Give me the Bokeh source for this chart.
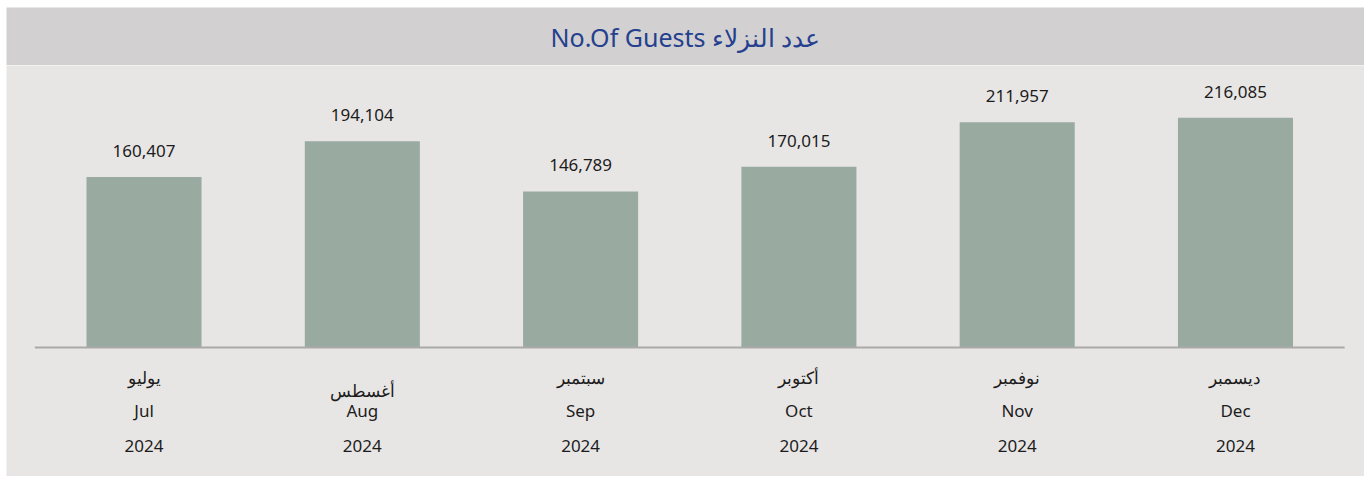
from bokeh.plotting import figure
from bokeh.models import ColumnDataSource, Range1d, Spacer
from bokeh.layouts import column, row
from bokeh.embed import file_html
from bokeh.resources import INLINE
from bokeh.core.properties import value

months_en = ["Jul", "Aug", "Sep", "Oct", "Nov", "Dec"]
months_ar = ["يوليو", "أغسطس", "سبتمبر", "أكتوبر", "نوفمبر", "ديسمبر"]
years = ["2024", "2024", "2024", "2024", "2024", "2024"]
guests = [160407, 194104, 146789, 170015, 211957, 216085]
title_text = "No.Of Guests عدد النزلاء"

FONT = "Noto Sans"
BAR = "#99aaa0"
BG = "#e8e6e5"
BAND = "#d2d0d1"
TXT = "#1c1c1c"

n = len(months_en)
pos = list(range(n))
src = ColumnDataSource(dict(
    x=pos,
    v=guests,
    lab=[f"{g:,}" for g in guests],
    ar=months_ar,
    m=months_en,
    yr=years,
    zero=[0] * n,
    aroff=[30, 43, 30, 30, 30, 30],
))

W = 1358

# title band
t = figure(width=W, height=58, output_backend="svg", toolbar_location=None,
           x_range=Range1d(0, 1), y_range=Range1d(0, 1),
           min_border=0, x_axis_type=None, y_axis_type=None)
t.background_fill_color = BAND
t.border_fill_color = BAND
t.outline_line_color = None
t.grid.visible = False
t.text(x=[0.5], y=[0.5], text=[title_text], text_align="center", text_baseline="middle",
       text_font=value(FONT), text_font_size="25px", text_color="#24408e")

# chart
p = figure(width=W, height=411, output_backend="svg", toolbar_location=None,
           x_range=Range1d(-0.63, n - 1 + 0.591),
           y_range=Range1d(-121400, 265300),
           min_border=0, x_axis_type=None, y_axis_type=None)
p.background_fill_color = BG
p.border_fill_color = BG
p.outline_line_color = None
p.grid.visible = False

p.vbar(x="x", top="v", width=0.527, source=src, fill_color=BAR, line_color=None)
p.segment(x0=[-0.5], x1=[n - 0.5], y0=[0], y1=[0], line_color="#a9a9a9", line_width=2)

p.text(x="x", y="v", text="lab", source=src, text_align="center", text_baseline="middle",
       y_offset=-26, text_font=value(FONT), text_font_size="17px", text_color=TXT)
p.text(x="x", y="zero", text="ar", source=src, text_align="center", text_baseline="middle",
       y_offset="aroff", text_font=value(FONT), text_font_size="17px", text_color=TXT)
p.text(x="x", y="zero", text="m", source=src, text_align="center", text_baseline="middle",
       y_offset=63, text_font=value(FONT), text_font_size="17px", text_color=TXT)
p.text(x="x", y="zero", text="yr", source=src, text_align="center", text_baseline="middle",
       y_offset=99, text_font=value(FONT), text_font_size="17px", text_color=TXT)

layout = column(Spacer(height=7), row(Spacer(width=6), column(t, p, spacing=0), spacing=0), spacing=0)
open("out.html", "w").write(file_html(layout, INLINE))
